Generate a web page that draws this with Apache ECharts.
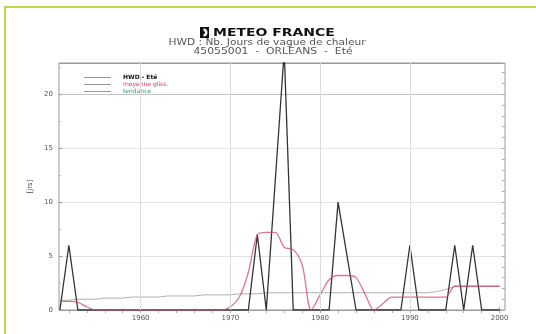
<!DOCTYPE html>
<html><head><meta charset="utf-8">
<script src="https://cdn.jsdelivr.net/npm/echarts@6/dist/echarts.min.js"></script>
<style>html,body{margin:0;padding:0;background:#fff}#c{width:536px;height:334px}</style>
</head><body><div id="c"></div>
<script>
const years = [1951,1952,1953,1954,1955,1956,1957,1958,1959,1960,
  1961,1962,1963,1964,1965,1966,1967,1968,1969,1970,
  1971,1972,1973,1974,1975,1976,1977,1978,1979,1980,
  1981,1982,1983,1984,1985,1986,1987,1988,1989,1990,
  1991,1992,1993,1994,1995,1996,1997,1998,1999,2000];
const hwd = [0,6,0,0,0,0,0,0,0,0,
  0,0,0,0,0,0,0,0,0,0,
  0,0,7,0,12,24,0,0,0,0,
  0,10,5,0,0,0,0,0,0,6,
  0,0,0,0,6,0,6,0,0,0];
const moyenne = [0.8,0.8,0.7,0.3,0,0,0,0,0,0,
  0,0,0,0,0,0,0,0,0,0.3,
  1.2,3.5,7.0,7.2,7.2,5.8,5.6,4.2,0,1.4,
  2.8,3.2,3.2,3.0,1.5,0,0.6,1.2,1.2,1.2,
  1.2,1.2,1.2,1.2,2.2,2.2,2.2,2.2,2.2,2.2];
const tendance = [0.9,0.9,1.0,1.0,1.0,1.1,1.1,1.1,1.2,1.2,
  1.2,1.2,1.3,1.3,1.3,1.3,1.4,1.4,1.4,1.4,
  1.5,1.5,1.5,1.6,1.6,1.6,1.6,1.6,1.6,1.6,
  1.6,1.6,1.6,1.6,1.6,1.6,1.6,1.6,1.6,1.6,
  1.6,1.6,1.7,1.9,2.2,2.2,2.2,2.2,2.2,2.2];
const xTickLabels = [1960,1970,1980,1990,2000];
const yTickLabels = [0,5,10,15,20];
const minorYears = [1952,1954,1956,1958,1960,1962,1964,1966,1968,1970,1972,1974,1976,1978,1980,1982,1984,1986,1988,1990,1992,1994,1996,1998,2000];

const pair = arr => years.map((y,i)=>[y,arr[i]]);
const chart = echarts.init(document.getElementById('c'), null, {renderer:'canvas'});
const ff = "'DejaVu Sans', sans-serif";
const legendLine = {color:'#999',width:1};
chart.setOption({
  animation:false,
  backgroundColor:'#fff',
  grid:{left:59,right:31,top:63,bottom:24,show:true,borderColor:'#999',borderWidth:1,backgroundColor:'transparent'},
  xAxis:[{
    type:'value',min:1950.9,max:2000.6,
    axisLine:{show:false},
    axisTick:{show:true,customValues:xTickLabels,length:3,inside:true,lineStyle:{color:'#999'}},
    axisLabel:{customValues:xTickLabels,fontSize:7,color:'#555',margin:5,fontFamily:ff,formatter:v=>String(v)},
    splitLine:{show:false}
  },{
    type:'value',position:'top',min:1950.9,max:2000.6,
    axisLine:{show:false},
    axisTick:{show:true,customValues:minorYears,length:3,inside:true,lineStyle:{color:'#aaa'}},
    axisLabel:{show:false},splitLine:{show:false}
  }],
  yAxis:[{
    type:'value',min:0,max:22.9,interval:5,
    name:'[jrs]',nameLocation:'middle',nameGap:18,nameRotate:90,
    nameTextStyle:{fontSize:7,color:'#444',fontFamily:ff},
    axisLine:{show:false},
    axisTick:{show:true,inside:true,length:3,lineStyle:{color:'#999'}},
    minorTick:{show:true,splitNumber:2,length:2,lineStyle:{color:'#bbb'}},
    axisLabel:{fontSize:7,color:'#555',margin:6,fontFamily:ff,
      formatter:v=>yTickLabels.includes(v)?String(v):''},
    splitLine:{show:true,lineStyle:{color:['#999','#e2e2e2','#e2e2e2','#e2e2e2','#c4c4c4','#999'],width:1}}
  },{
    type:'value',position:'right',min:0,max:22.9,interval:1,
    axisLine:{show:false},
    axisTick:{show:true,inside:true,length:3,lineStyle:{color:'#aaa'}},
    axisLabel:{show:false},splitLine:{show:false}
  }],
  legend:{
    left:79,top:69,orient:'vertical',itemWidth:27,itemHeight:1,itemGap:0,
    icon:'rect',
    itemStyle:{color:'#999',borderWidth:0},
    textStyle:{fontSize:6,fontFamily:ff,padding:[0,0,0,7],lineHeight:7,height:7},
    data:[
      {name:'HWD - Eté',textStyle:{color:'#111',fontWeight:'bold'},itemStyle:{color:'#999'},lineStyle:legendLine},
      {name:'moyenne gliss.',textStyle:{color:'#e0305a'},itemStyle:{color:'#999'},lineStyle:legendLine},
      {name:'tendance',textStyle:{color:'#3a9a5a'},itemStyle:{color:'#999'},lineStyle:legendLine}
    ]
  },
  series:[
    {name:'HWD - Eté',type:'line',data:pair(hwd),symbol:'none',clip:true,z:3,
      lineStyle:{color:'#333',width:1.3},itemStyle:{color:'#333'},
      markLine:{silent:true,symbol:'none',label:{show:false},
        lineStyle:{color:'#dcdcdc',width:1,type:'solid'},
        data:xTickLabels.slice(0,4).map(v=>({xAxis:v}))}},
    {name:'moyenne gliss.',type:'line',data:pair(moyenne),symbol:'none',smooth:0.3,clip:true,z:4,
      lineStyle:{color:'#cf4a68',width:1.3,opacity:0.75},itemStyle:{color:'#cf4a68'}},
    {name:'tendance',type:'line',data:pair(tendance),symbol:'none',clip:true,z:2,
      lineStyle:{color:'#aab4aa',width:1},itemStyle:{color:'#aab4aa'}}
  ],
  graphic:[
    {type:'rect',shape:{x:5,y:7,width:600,height:400},style:{fill:'none',stroke:'#c3d64a',lineWidth:2},silent:true},
    {type:'rect',shape:{x:200,y:27,width:9,height:11},style:{fill:'#111'}},
    {type:'sector',shape:{cx:203.5,cy:32.5,r:4,r0:1.6,startAngle:-Math.PI/2,endAngle:Math.PI/2},style:{fill:'#fff'}},
    {type:'text',x:213,y:33,scaleX:1.27,style:{text:'METEO FRANCE',font:"bold 11px 'DejaVu Sans', sans-serif",fill:'#111',verticalAlign:'middle',align:'left'}},
    {type:'text',x:267,y:43,scaleX:1.18,style:{text:'HWD : Nb. Jours de vague de chaleur',font:"9px 'DejaVu Sans', sans-serif",fill:'#555',verticalAlign:'middle',align:'center'}},
    {type:'text',x:273,y:52,scaleX:1.2,style:{text:'45055001  -  ORLEANS  -  Eté',font:"9px 'DejaVu Sans', sans-serif",fill:'#555',verticalAlign:'middle',align:'center'}}
  ]
});
</script></body></html>
